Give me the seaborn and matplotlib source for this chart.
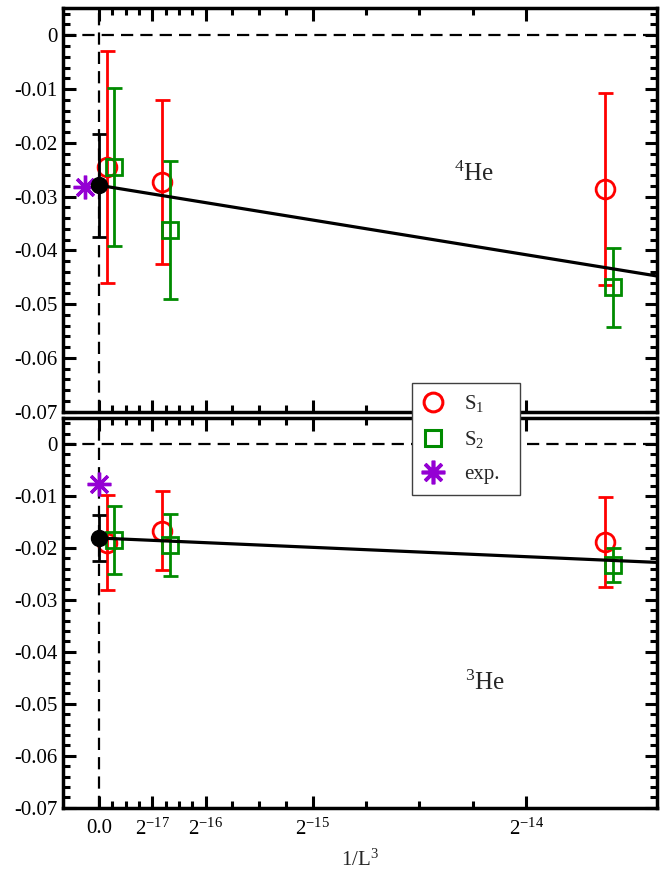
import numpy as np
import pandas as pd
import matplotlib
matplotlib.use("Agg")
import matplotlib.pyplot as plt
import seaborn as sns
from matplotlib.lines import Line2D
from matplotlib.ticker import FixedLocator, FixedFormatter

# ---------------- data ----------------
U = 2.0 ** -17
L_sizes = [96, 48, 24]
s1_x = [1.0 / L ** 3 for L in L_sizes]
s2_x = [1.0 / L ** 3 + 1.05e-6 for L in L_sizes]

x_tick_vals = [0.0, 2.0 ** -17, 2.0 ** -16, 2.0 ** -15, 2.0 ** -14]
x_tick_labels = ["0.0", "2$^{-17}$", "2$^{-16}$", "2$^{-15}$", "2$^{-14}$"]
y_tick_vals = [0.0, -0.01, -0.02, -0.03, -0.04, -0.05, -0.06, -0.07]
y_tick_labels = ["0", "-0.01", "-0.02", "-0.03", "-0.04", "-0.05", "-0.06", "-0.07"]

# 4He panel
he4_s1_y = [-0.0245, -0.0273, -0.0286]
he4_s1_err = [0.0216, 0.0153, 0.0178]
he4_s2_y = [-0.0245, -0.0362, -0.0469]
he4_s2_err = [0.0147, 0.0128, 0.0074]
he4_ext_y = -0.0279
he4_ext_err = 0.0096
he4_exp_x = -0.26 * U
he4_exp_y = -0.0283
he4_fit_intercept = -0.0279
he4_fit_slope = -0.001614 / U

# 3He panel
he3_s1_y = [-0.0190, -0.0167, -0.0189]
he3_s1_err = [0.0091, 0.0076, 0.0087]
he3_s2_y = [-0.0185, -0.0195, -0.0233]
he3_s2_err = [0.0065, 0.0060, 0.0033]
he3_ext_y = -0.0181
he3_ext_err = 0.0045
he3_exp_x = 0.0
he3_exp_y = -0.0077
he3_fit_intercept = -0.0181
he3_fit_slope = -0.000449 / U

# ---------------- style ----------------
sns.set_theme(style="ticks")
plt.rcParams.update({
    "font.family": ["Liberation Serif", "DejaVu Serif"],
    "mathtext.fontset": "custom",
    "mathtext.rm": "Liberation Serif",
    "mathtext.it": "Liberation Serif:italic",
    "mathtext.bf": "Liberation Serif:bold",
    "axes.linewidth": 2.5,
    "axes.edgecolor": "black",
    "xtick.direction": "in",
    "ytick.direction": "in",
    "xtick.top": True,
    "ytick.right": True,
    "xtick.major.size": 9,
    "ytick.major.size": 9,
    "xtick.minor.size": 5,
    "ytick.minor.size": 5,
    "xtick.major.width": 2.2,
    "ytick.major.width": 2.2,
    "xtick.minor.width": 2.2,
    "ytick.minor.width": 2.2,
    "xtick.color": "black",
    "ytick.color": "black",
    "xtick.labelsize": 15,
    "ytick.labelsize": 15,
})

RED = "#ff0000"
GREEN = "#008b00"
PURPLE = "#9400d3"
STAR = (8, 2, 0)

fig = plt.figure(figsize=(6.72, 8.71), dpi=100)
ax_top = fig.add_axes([0.09375, 0.5273, 0.884, 0.4631])
ax_bot = fig.add_axes([0.09375, 0.0727, 0.884, 0.4474])

xmin, xmax = -0.674 * U, 10.45 * U

minor_x = []
for a, b in zip(x_tick_vals[:-1], x_tick_vals[1:]):
    minor_x += [a + (b - a) * k / 4 for k in (1, 2, 3)]
minor_y = [v for v in np.arange(0.004, -0.0701, -0.002) if abs(v / 0.01 - round(v / 0.01)) > 1e-6]


def draw_panel(ax, s1_y, s1_err, s2_y, s2_err, ext_y, ext_err, exp_x, exp_y,
               fit_b, fit_m, label, label_xy):
    ax.set_facecolor("white")
    dash = (0, (5.5, 3.2))
    ax.axhline(0, color="black", lw=1.6, ls=dash, zorder=1)
    ax.axvline(0, color="black", lw=1.6, ls=dash, zorder=1)

    # S1
    ax.errorbar(s1_x, s1_y, yerr=s1_err, fmt="none", ecolor=RED,
                elinewidth=2.0, capsize=5.4, capthick=2.0, zorder=3)
    ax.plot(s1_x, s1_y, ls="none", marker="o", ms=13.5, mfc="none",
            mec=RED, mew=2.0, zorder=3)
    # S2
    ax.errorbar(s2_x, s2_y, yerr=s2_err, fmt="none", ecolor=GREEN,
                elinewidth=2.0, capsize=5.4, capthick=2.0, zorder=4)
    ax.plot(s2_x, s2_y, ls="none", marker="s", ms=12, mfc="none",
            mec=GREEN, mew=2.0, zorder=4)

    # fit line
    fit_df = pd.DataFrame({"x": [0.0, xmax],
                           "y": [fit_b, fit_b + fit_m * xmax]})
    sns.lineplot(data=fit_df, x="x", y="y", ax=ax, color="black",
                 linewidth=2.3, zorder=5)

    # experiment
    ax.plot([exp_x], [exp_y], ls="none", marker=STAR, ms=17, mec=PURPLE,
            mew=2.4, zorder=5.5)
    # extrapolated
    ax.errorbar([0.0], [ext_y], yerr=[ext_err], fmt="none", ecolor="black",
                elinewidth=2.0, capsize=4.8, capthick=2.0, zorder=6)
    ax.plot([0.0], [ext_y], ls="none", marker="o", ms=11.5, mfc="black",
            mec="black", zorder=6)

    ax.text(label_xy[0], label_xy[1], label, fontsize=18, va="center",
            ha="left", zorder=7)

    ax.set_xlim(xmin, xmax)
    ax.set_ylim(-0.07, 0.005)
    ax.xaxis.set_major_locator(FixedLocator(x_tick_vals))
    ax.xaxis.set_minor_locator(FixedLocator(minor_x))
    ax.yaxis.set_major_locator(FixedLocator(y_tick_vals))
    ax.yaxis.set_major_formatter(FixedFormatter(y_tick_labels))
    ax.yaxis.set_minor_locator(FixedLocator(minor_y))
    ax.tick_params(axis="both", which="both", direction="in",
                   top=True, right=True)
    ax.tick_params(axis="y", which="major", pad=4)
    ax.set_xlabel("")
    ax.set_ylabel("")
    for sp in ax.spines.values():
        sp.set_visible(True)
        sp.set_linewidth(2.5)


draw_panel(ax_top, he4_s1_y, he4_s1_err, he4_s2_y, he4_s2_err,
           he4_ext_y, he4_ext_err, he4_exp_x, he4_exp_y,
           he4_fit_intercept, he4_fit_slope, r"$^{4}$He", (6.65 * U, -0.0258))
draw_panel(ax_bot, he3_s1_y, he3_s1_err, he3_s2_y, he3_s2_err,
           he3_ext_y, he3_ext_err, he3_exp_x, he3_exp_y,
           he3_fit_intercept, he3_fit_slope, r"$^{3}$He", (6.85 * U, -0.0459))

ax_top.tick_params(axis="x", labelbottom=False)
ax_bot.xaxis.set_major_formatter(FixedFormatter(x_tick_labels))
ax_bot.tick_params(axis="x", which="major", pad=8)
ax_bot.set_xlabel("1/L$^{3}$", fontsize=15, labelpad=7)

handles = [
    Line2D([], [], ls="none", marker="o", ms=13.5, mfc="none", mec=RED, mew=2.2),
    Line2D([], [], ls="none", marker="s", ms=11.5, mfc="none", mec=GREEN, mew=2.2),
    Line2D([], [], ls="none", marker=STAR, ms=17, mec=PURPLE, mew=2.6),
]
labels = ["S$_{1}$", "S$_{2}$", "exp."]
leg = fig.legend(handles, labels, loc="upper left",
                 bbox_to_anchor=(0.613, 0.4303, 0.161, 0.13), mode="expand",
                 borderaxespad=0, frameon=True, fancybox=False, shadow=False,
                 framealpha=1, edgecolor="#404040", fontsize=15,
                 handlelength=1.0, handletextpad=1.0, borderpad=0.5,
                 labelspacing=0.7)
leg.get_frame().set_linewidth(1.0)
leg.set_zorder(20)

fig.savefig("out.png", dpi=100)
